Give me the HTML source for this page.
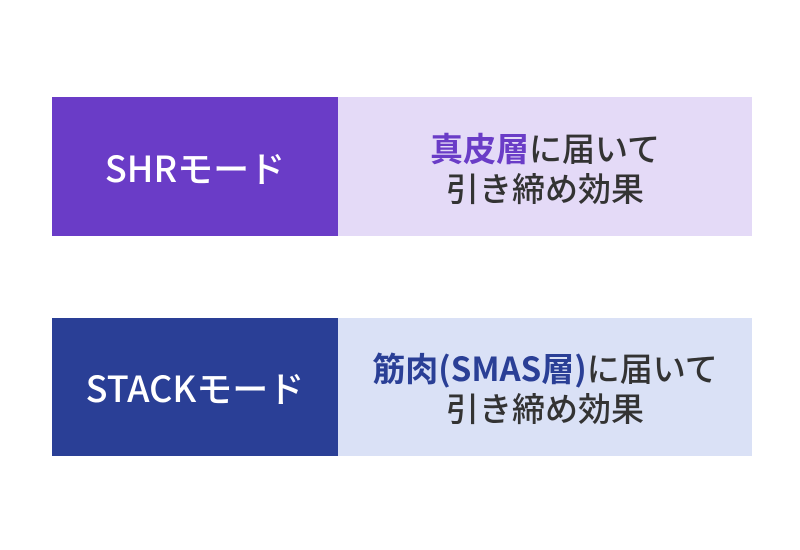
<!DOCTYPE html>
<html><head><meta charset="utf-8"><style>
body{margin:0;width:800px;height:550px;background:#fff;font-family:"Noto Sans CJK JP","Liberation Sans",sans-serif;position:relative;overflow:hidden}
.b{position:absolute;display:flex;align-items:center;justify-content:center;text-align:center}
.l{left:52px;width:286px;color:#fff;font-size:36px;font-weight:500;letter-spacing:0px}
.r{left:338px;width:414px;color:#333;font-size:33px;line-height:40px;font-weight:500}
</style></head><body>
<div class="b l" style="top:97px;height:139px;background:#6a3cc7">SHRモード</div>
<div class="b r" style="top:97px;height:139px;background:#e4daf7"><div><span style="color:#6a3cc7;font-weight:700">真皮層</span>に届いて<br>引き締め効果</div></div>
<div class="b l" style="top:318px;height:138px;background:#2a3f96">STACKモード</div>
<div class="b r" style="top:318px;height:138px;background:#dae1f6"><div><span style="color:#2a3f96;font-weight:700">筋肉(SMAS層)</span>に届いて<br>引き締め効果</div></div>
</body></html>
